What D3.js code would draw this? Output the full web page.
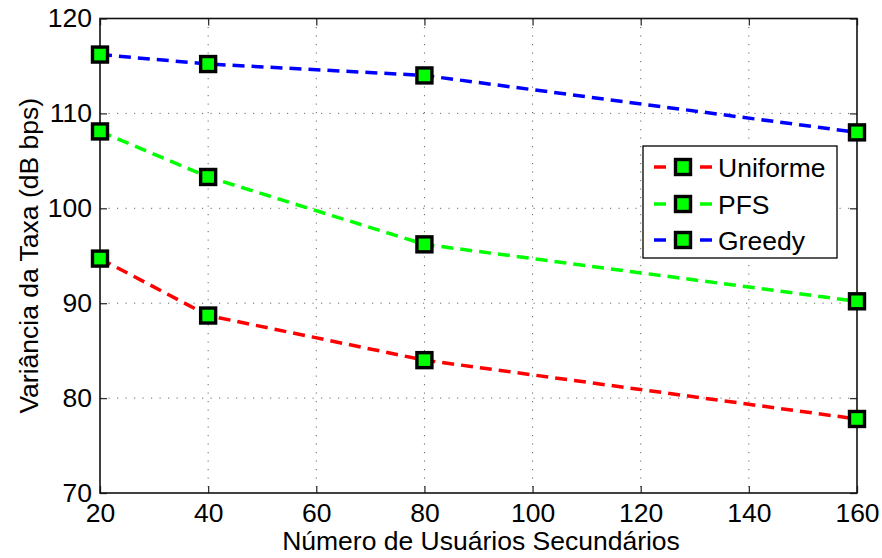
<!DOCTYPE html>
<html>
<head>
<meta charset="utf-8">
<script src="https://cdn.jsdelivr.net/npm/d3@7"></script>
<style>
  html, body { margin: 0; padding: 0; background: #fff; }
  svg { display: block; }
  text { font-family: "Liberation Sans", Arial, Helvetica, sans-serif; fill: #000; }
</style>
</head>
<body>
<svg id="chart" width="882" height="558"></svg>
<script>
// Number of secondary users (x) and rate variance in dB bps for each scheduler
const users = [20, 40, 80, 160];
const uniforme = [94.7, 88.7, 84.0, 77.8];
const pfs = [108.1, 103.3, 96.2, 90.2];
const greedy = [116.2, 115.2, 114.0, 108.0];

const seriesNames = ["Uniforme", "PFS", "Greedy"];
const seriesColors = ["#ff0000", "#00ff00", "#0000ff"];
const seriesValues = [uniforme, pfs, greedy];

const xTicks = [20, 40, 60, 80, 100, 120, 140, 160];
const yTicks = [70, 80, 90, 100, 110, 120];

const xTitle = "Número de Usuários Secundários";
const yTitle = "Variância da Taxa (dB bps)";

const fontSize = "26.5px";
const svg = d3.select("#chart");
const plotL = 100, plotR = 857, plotT = 18.5, plotB = 493;

const x = d3.scaleLinear().domain([20, 160]).range([plotL, plotR]);
const y = d3.scaleLinear().domain([70, 120]).range([plotB, plotT]);

// dotted grid
const grid = svg.append("g");
grid.selectAll("line.gx").data(xTicks.slice(1, -1)).join("line")
  .attr("x1", d => x(d)).attr("x2", d => x(d))
  .attr("y1", plotT).attr("y2", plotB)
  .attr("stroke", "#666").attr("stroke-width", 1).attr("stroke-dasharray", "1.2,7.3");
grid.selectAll("line.gy").data(yTicks.slice(1, -1)).join("line")
  .attr("y1", d => y(d)).attr("y2", d => y(d))
  .attr("x1", plotL).attr("x2", plotR)
  .attr("stroke", "#666").attr("stroke-width", 1).attr("stroke-dasharray", "1.2,7.3");

// axes with inward ticks on all four sides
const tickLen = 7;
const axB = svg.append("g").attr("transform", `translate(0,${plotB})`)
  .call(d3.axisBottom(x).tickValues(xTicks).tickSizeInner(-tickLen).tickSizeOuter(0).tickPadding(10));
const axT = svg.append("g").attr("transform", `translate(0,${plotT})`)
  .call(d3.axisTop(x).tickValues(xTicks).tickSizeInner(-tickLen).tickSizeOuter(0).tickFormat(""));
const axL = svg.append("g").attr("transform", `translate(${plotL},0)`)
  .call(d3.axisLeft(y).tickValues(yTicks).tickSizeInner(-tickLen).tickSizeOuter(0).tickPadding(8));
const axR = svg.append("g").attr("transform", `translate(${plotR},0)`)
  .call(d3.axisRight(y).tickValues(yTicks).tickSizeInner(-tickLen).tickSizeOuter(0).tickFormat(""));

[axB, axT, axL, axR].forEach(a => {
  a.select(".domain").remove();
  a.selectAll(".tick line").attr("stroke", "#333").attr("stroke-width", 1.3);
  a.selectAll("text").style("font-size", fontSize).attr("fill", "#000");
});
axB.selectAll("text").attr("dy", "0.71em");

// frame
svg.append("rect")
  .attr("x", plotL).attr("y", plotT)
  .attr("width", plotR - plotL).attr("height", plotB - plotT)
  .attr("fill", "none").attr("stroke", "#111").attr("stroke-width", 1.6);

// series lines
const line = d3.line().x((d, i) => x(users[i])).y(d => y(d));
seriesValues.forEach((vals, k) => {
  svg.append("path")
    .datum(vals)
    .attr("d", line)
    .attr("fill", "none")
    .attr("stroke", seriesColors[k])
    .attr("stroke-width", 3.5)
    .attr("stroke-dasharray", "12,7");
});

// square markers
const ms = 15;
seriesValues.forEach(vals => {
  svg.append("g").selectAll("rect").data(vals).join("rect")
    .attr("x", (d, i) => x(users[i]) - ms / 2)
    .attr("y", d => y(d) - ms / 2)
    .attr("width", ms).attr("height", ms)
    .attr("fill", "#00ff00")
    .attr("stroke", "#000").attr("stroke-width", 3.4);
});

// axis titles
svg.append("text")
  .attr("x", 481).attr("y", 550)
  .attr("text-anchor", "middle")
  .style("font-size", fontSize)
  .text(xTitle);
svg.append("text")
  .attr("transform", `translate(38,${(plotT + plotB) / 2}) rotate(-90)`)
  .attr("text-anchor", "middle")
  .style("font-size", fontSize)
  .text(yTitle);

// legend
const lg = svg.append("g");
lg.append("rect")
  .attr("x", 643).attr("y", 146).attr("width", 194).attr("height", 112)
  .attr("fill", "#fff").attr("stroke", "#000").attr("stroke-width", 1.3);
const rowY = [167, 204, 240];
seriesNames.forEach((name, k) => {
  const cy = rowY[k];
  lg.append("line")
    .attr("x1", 654).attr("x2", 666).attr("y1", cy).attr("y2", cy)
    .attr("stroke", seriesColors[k]).attr("stroke-width", 3.5);
  lg.append("line")
    .attr("x1", 700).attr("x2", 712).attr("y1", cy).attr("y2", cy)
    .attr("stroke", seriesColors[k]).attr("stroke-width", 3.5);
  lg.append("rect")
    .attr("x", 683 - ms / 2).attr("y", cy - ms / 2)
    .attr("width", ms).attr("height", ms)
    .attr("fill", "#00ff00").attr("stroke", "#000").attr("stroke-width", 3.4);
  lg.append("text")
    .attr("x", 718).attr("y", cy).attr("dy", "0.36em")
    .style("font-size", fontSize)
    .text(name);
});
</script>
</body>
</html>
